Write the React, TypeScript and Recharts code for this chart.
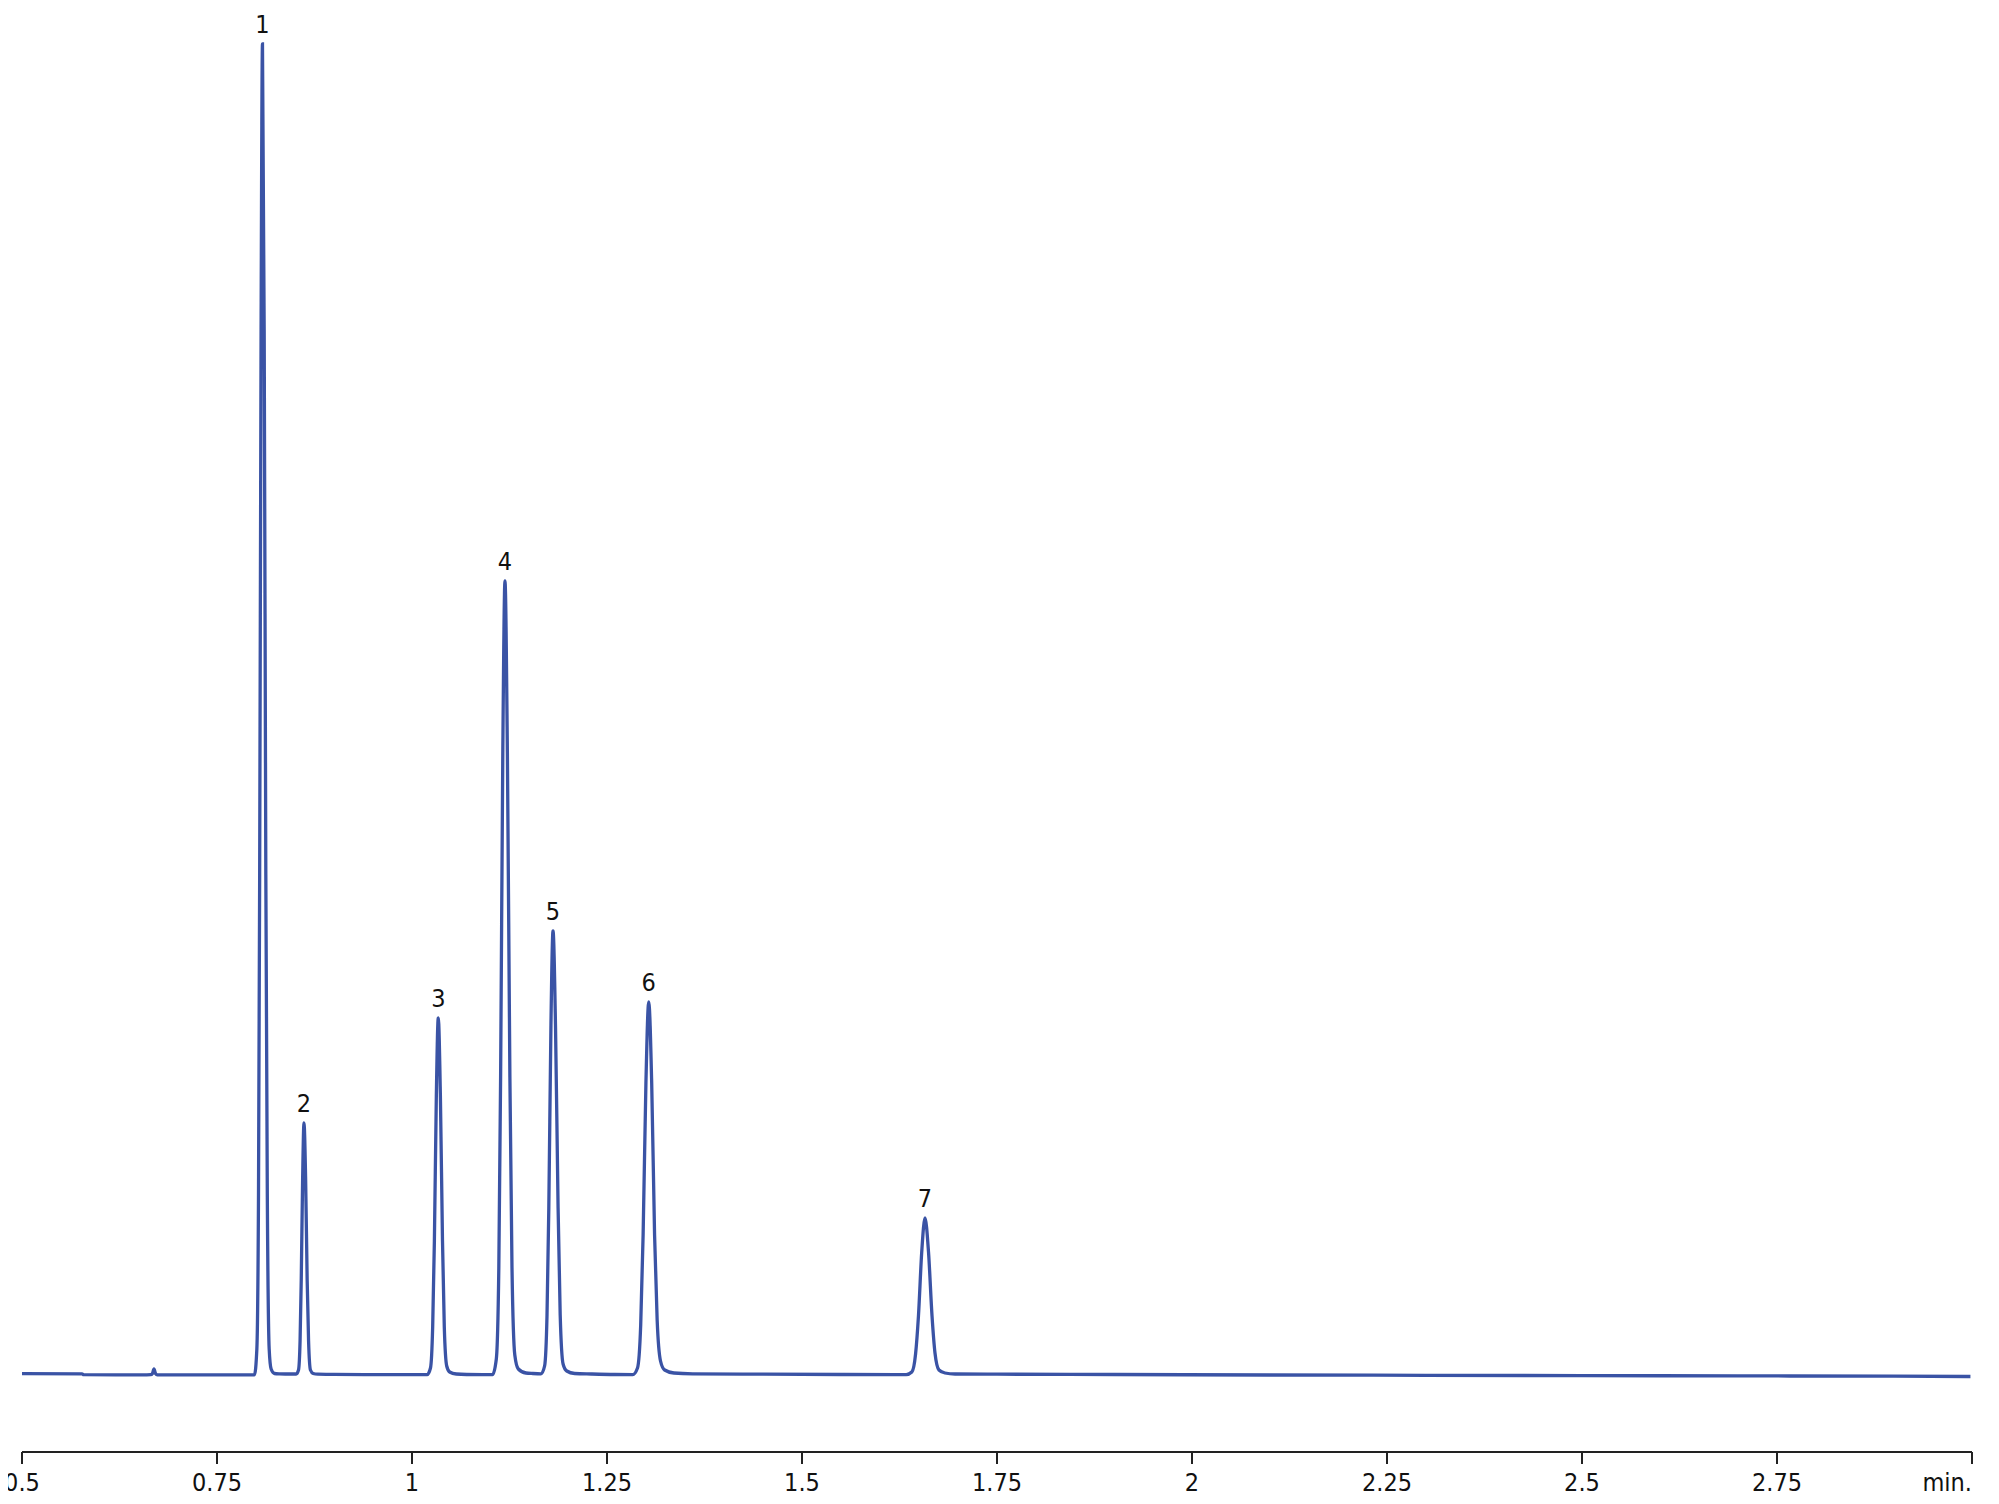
import React from 'react';
import { LineChart, Line, XAxis, YAxis, LabelList } from 'recharts';

// Retention time (min) / detector signal (arbitrary units) pairs
const baseline: [number, number][] = [
  [0.5, 1.3], [0.577, 1.2], [0.579, 0.3], [0.62, 0.2], [0.66, 0.2], [0.70, 0.1], [0.75, 0.1], [0.79, 0.2],
  [0.83, 1.2], [0.845, 1.0], [0.90, 0.6], [0.95, 0.4], [1.0, 0.3], [1.07, 0.5], [1.09, 0.4],
  [1.155, 1.5], [1.23, 1.0], [1.26, 0.5], [1.36, 1.2], [1.45, 0.8], [1.55, 0.5], [1.62, 0.4],
  [1.75, 0.8], [1.9, 0.5], [2.1, 0.0], [2.3, -0.3], [2.5, -0.6], [2.7, -0.9], [2.9, -1.2], [2.998, -1.5],
];

const blip: [number, number][] = [
  [0.665, 0.3], [0.6672, 1.5], [0.6692, 6], [0.6712, 1.5], [0.6735, 0.2],
];

const peak1: [number, number][] = [
  [0.798, 0.2], [0.8011, 26], [0.8032, 180], [0.8047, 500], [0.8065, 1042], [0.8083, 1331],
  [0.8105, 1042], [0.8126, 500], [0.8145, 180], [0.8169, 26], [0.8194, 6], [0.8237, 1.5],
];

const peak2: [number, number][] = [
  [0.8515, 1.0], [0.8545, 5], [0.8565, 34], [0.858, 95], [0.8598, 197], [0.8615, 252],
  [0.8636, 197], [0.8656, 95], [0.8674, 34], [0.8698, 5], [0.8733, 1.5], [0.8792, 0.8],
];

const peak3: [number, number][] = [
  [1.0193, 0.3], [1.0237, 7], [1.0265, 48], [1.0287, 134], [1.0312, 279], [1.0337, 357],
  [1.0364, 279], [1.0391, 134], [1.0414, 48], [1.0445, 9], [1.0483, 3], [1.0568, 1],
];

const peak4: [number, number][] = [
  [1.1033, 0.4], [1.1081, 16], [1.1113, 107], [1.1136, 298], [1.1164, 621], [1.1192, 794],
  [1.1223, 621], [1.1255, 298], [1.1282, 107], [1.1318, 20], [1.1363, 6], [1.1461, 2],
];

const peak5: [number, number][] = [
  [1.1654, 1.2], [1.17, 9], [1.1731, 60], [1.1754, 167], [1.1781, 348], [1.1808, 444],
  [1.184, 348], [1.1873, 167], [1.19, 60], [1.1937, 11], [1.1984, 4], [1.2085, 1.5],
];

const peak6: [number, number][] = [
  [1.283, 0.4], [1.2891, 7], [1.2932, 50], [1.2963, 140], [1.2999, 292], [1.3035, 373],
  [1.3073, 292], [1.311, 140], [1.3143, 55], [1.3186, 14], [1.3239, 5], [1.3358, 2],
];

const peak7: [number, number][] = [
  [1.6336, 0.4], [1.6408, 3], [1.6456, 21], [1.6493, 59], [1.6535, 123], [1.6577, 157],
  [1.6622, 123], [1.6667, 59], [1.6705, 22], [1.6756, 5], [1.6833, 2], [1.6962, 1],
];

const peaks = [peak1, peak2, peak3, peak4, peak5, peak6, peak7];
const peakLabels = ['1', '2', '3', '4', '5', '6', '7'];

const xTicks = [0.5, 0.75, 1, 1.25, 1.5, 1.75, 2, 2.25, 2.5, 2.75, 3];
const xTickLabels = ['0.5', '0.75', '1', '1.25', '1.5', '1.75', '2', '2.25', '2.5', '2.75', 'min.'];

type Pt = { t: number; v: number; label?: string };

const apexTimes = peaks.map((p) => p.reduce((a, b) => (b[1] > a[1] ? b : a))[0]);

const data: Pt[] = [baseline, blip, ...peaks]
  .flat()
  .sort((a, b) => a[0] - b[0])
  .map(([t, v]) => {
    const i = apexTimes.indexOf(t);
    return i >= 0 ? { t, v, label: peakLabels[i] } : { t, v };
  });

const FONT = "'Liberation Sans Narrow', 'DejaVu Sans Condensed', 'Arial Narrow', sans-serif";

const AxisTick = (props: any) => {
  const { x, y, payload, index } = props;
  const i = xTicks.indexOf(payload.value);
  const last = i === xTicks.length - 1;
  return (
    <text
      x={x}
      y={y}
      dy="0.71em"
      textAnchor={last ? 'end' : 'middle'}
      fontFamily={FONT}
      fontSize={25}
      fill="#111"
      key={index}
    >
      {xTickLabels[i]}
    </text>
  );
};

const PeakLabel = (props: any) => {
  const { x, y, value } = props;
  if (value === undefined || value === null || value === '') return null;
  return (
    <text x={x} y={y - 11} textAnchor="middle" fontFamily={FONT} fontSize={25} fill="#111">
      {value}
    </text>
  );
};

export default function App() {
  return (
    <div style={{ width: 1999, height: 1504, background: '#fff', marginLeft: -8, marginTop: -8 }}>
      <LineChart
        width={1999}
        height={1504}
        data={data}
        margin={{ top: 44, right: 27, left: 22, bottom: 12 }}
      >
        <XAxis
          dataKey="t"
          type="number"
          domain={[0.5, 3]}
          ticks={xTicks}
          interval={0}
          height={40}
          tickSize={12}
          tickMargin={9}
          axisLine={{ stroke: '#222', strokeWidth: 2 }}
          tickLine={{ stroke: '#222', strokeWidth: 2 }}
          tick={<AxisTick />}
          allowDataOverflow
        />
        <YAxis hide type="number" domain={[-77, 1331]} />
        <Line
          type="monotone"
          dataKey="v"
          stroke="#3a53a5"
          strokeWidth={3.3}
          dot={false}
          activeDot={false}
          isAnimationActive={false}
        >
          <LabelList dataKey="label" content={<PeakLabel />} />
        </Line>
      </LineChart>
    </div>
  );
}
